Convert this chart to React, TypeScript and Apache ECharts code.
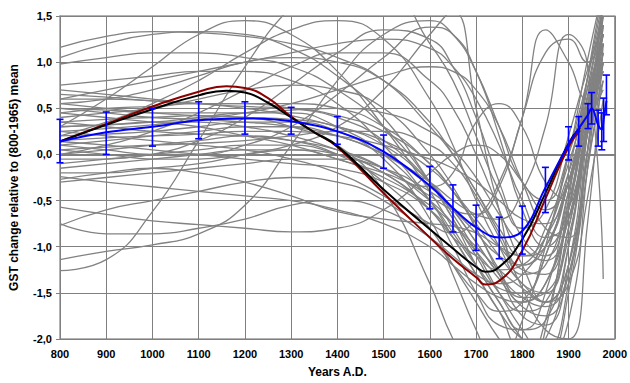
import React, { useEffect, useRef } from "react";
import * as echarts from "echarts";

// Sample years shared by the gray (individual reconstruction) curves
const YEARS = [800, 900, 1000, 1100, 1200, 1300, 1400, 1500, 1600, 1650, 1700, 1750, 1800, 1850, 1900, 1940, 1975];

const G01 = [-1.26, -1.14, -0.62, 0.15, 0.95, 1.6, 2.0, 1.9, 1.2, 0.8, 0.2, -0.4, -0.8, -0.6, 0.2, 0.9, 1.4];
const G02 = [-1.14, -1.05, -0.98, -0.86, -0.55, 0.1, 0.8, 1.3, 1.45, 1.3, 0.9, 0.3, -0.3, -0.5, 0.0, 0.7, 1.2];
const G03 = [-0.75, -0.86, -0.86, -0.8, -0.7, -0.55, -0.5, -0.6, -0.9, -1.1, -1.3, -1.4, -1.3, -0.9, -0.2, 0.4, 0.9];
const G04 = [-0.57, -0.65, -0.72, -0.76, -0.8, -0.84, -0.8, -0.6, -0.2, 0.0, 0.1, 0.0, -0.3, -0.6, -0.3, 0.4, 1.0];
const G05 = [-0.77, -0.6, -0.5, -0.4, -0.3, -0.25, -0.3, -0.5, -0.9, -1.2, -1.5, -1.7, -1.6, -1.1, -0.3, 0.5, 1.2];
const G06 = [-0.24, -0.3, -0.35, -0.4, -0.45, -0.5, -0.6, -0.75, -1.0, -1.2, -1.4, -1.55, -1.6, -1.4, -0.7, 0.2, 0.8];
const G07 = [-0.27, -0.2, -0.15, -0.2, -0.3, -0.45, -0.62, -0.7, -0.75, -0.78, -0.85, -1.0, -1.1, -0.9, -0.3, 0.3, 0.7];
const G08 = [0.14, 0.1, 0.05, 0.0, -0.05, -0.1, -0.15, -0.3, -0.6, -0.9, -1.3, -1.7, -2.1, -2.0, -1.0, 0.3, 1.2];
const G09 = [0.0, 0.05, 0.1, 0.15, 0.2, 0.15, 0.0, -0.3, -0.8, -1.2, -1.6, -2.0, -2.3, -1.8, -0.6, 0.6, 1.6];
const G10 = [0.05, 0.0, -0.05, -0.05, 0.0, 0.05, 0.0, -0.2, -0.6, -0.9, -1.1, -1.25, -1.2, -0.8, -0.1, 0.6, 1.3];
const G11 = [0.3, 0.32, 0.35, 0.4, 0.45, 0.45, 0.3, 0.0, -0.5, -0.85, -1.2, -1.45, -1.5, -1.1, -0.2, 0.8, 1.7];
const G12 = [0.55, 0.5, 0.45, 0.42, 0.4, 0.38, 0.3, 0.1, -0.3, -0.6, -0.95, -1.3, -1.55, -1.5, -0.8, 0.3, 1.1];
const G13 = [0.6, 0.6, 0.58, 0.55, 0.5, 0.42, 0.3, 0.15, -0.15, -0.4, -0.7, -1.0, -1.2, -1.0, -0.3, 0.5, 1.0];
const G14 = [0.7, 0.65, 0.6, 0.55, 0.52, 0.5, 0.42, 0.25, -0.1, -0.4, -0.75, -1.1, -1.4, -1.6, -1.2, 0.0, 1.4];
const G15 = [0.75, 0.8, 0.85, 0.9, 0.9, 0.8, 0.55, 0.1, -0.5, -0.9, -1.3, -1.7, -2.0, -2.1, -1.4, 0.0, 1.0];
const G16 = [0.98, 1.05, 1.1, 1.1, 1.05, 0.95, 0.7, 0.3, -0.3, -0.7, -1.1, -1.5, -1.7, -1.6, -0.9, 0.2, 1.2];
const G17 = [1.05, 1.2, 1.3, 1.33, 1.3, 1.15, 0.85, 0.4, -0.3, -0.7, -1.2, -1.6, -2.0, -2.2, -1.5, 0.0, 1.5];
const G18 = [1.16, 1.28, 1.33, 1.32, 1.28, 1.2, 1.05, 0.8, 0.3, 0.0, -0.4, -0.8, -1.1, -1.0, -0.3, 0.6, 1.3];
const G19 = [0.3, 0.6, 0.95, 1.3, 1.45, 1.3, 0.9, 0.3, -0.4, -0.8, -1.2, -1.6, -1.9, -1.8, -1.0, 0.2, 1.0];
const G20 = [0.2, 0.35, 0.55, 0.8, 1.1, 1.35, 1.45, 1.25, 0.6, 0.1, -0.5, -1.0, -1.4, -1.5, -0.8, 0.4, 1.2];
const G21 = [-0.1, -0.05, 0.0, 0.15, 0.4, 0.75, 1.1, 1.35, 1.25, 0.95, 0.4, -0.3, -0.9, -1.1, -0.5, 0.5, 1.3];
const G22 = [0.1, 0.05, 0.0, 0.0, 0.1, 0.3, 0.65, 1.05, 1.38, 1.3, 0.9, 0.2, -0.6, -1.0, -0.6, 0.3, 1.0];
const G23 = [-0.2, -0.2, -0.15, -0.1, 0.0, 0.1, 0.3, 0.7, 1.3, 1.55, 0.5, -0.6, -1.3, -1.2, -0.4, 0.5, 1.3];
const G24 = [0.45, 0.4, 0.35, 0.3, 0.2, 0.1, -0.05, -0.2, -0.35, -0.2, 0.35, 0.55, 0.3, -0.3, -0.5, 0.3, 1.1];
const G25 = [0.25, 0.2, 0.15, 0.1, 0.05, -0.05, -0.2, -0.45, -0.75, -0.85, -0.7, -0.3, 0.4, 1.35, 1.0, 0.6, 0.9];
const G26 = [0.5, 0.45, 0.4, 0.38, 0.35, 0.3, 0.2, 0.0, -0.3, -0.5, -0.65, -0.7, -0.4, 0.3, 1.3, 1.0, -1.35];
const G27 = [0.35, 0.38, 0.4, 0.42, 0.4, 0.3, 0.1, -0.4, -1.4, -2.0, -2.4, -2.3, -1.8, -1.0, 0.0, 0.8, 1.6];
const G28 = [0.2, 0.22, 0.25, 0.3, 0.35, 0.35, 0.25, -0.05, -0.7, -1.3, -1.9, -2.4, -2.5, -1.9, -0.5, 0.8, 1.8];
const G29 = [-0.05, -0.05, 0.0, 0.05, 0.1, 0.1, 0.0, -0.2, -0.6, -1.0, -1.5, -1.85, -1.9, -1.5, -0.4, 0.7, 1.5];
const G30 = [0.45, 0.5, 0.52, 0.55, 0.55, 0.5, 0.4, 0.15, -0.3, -0.65, -1.05, -1.5, -1.9, -2.2, -1.8, -0.2, 1.4];
const G31 = [0.65, 0.62, 0.58, 0.55, 0.55, 0.55, 0.5, 0.3, -0.1, -0.4, -0.8, -1.3, -1.75, -1.85, -1.2, 0.3, 1.6];
const G32 = [0.1, 0.15, 0.2, 0.25, 0.3, 0.3, 0.2, 0.0, -0.35, -0.6, -0.95, -1.3, -1.55, -1.65, -1.3, -0.2, 1.0];
const G33 = [-0.15, -0.1, -0.05, 0.0, 0.05, 0.05, -0.05, -0.25, -0.55, -0.75, -1.0, -1.25, -1.45, -1.6, -1.4, -0.5, 0.6];
const G34 = [0.4, 0.45, 0.5, 0.6, 0.7, 0.75, 0.7, 0.5, 0.0, -0.35, -0.8, -1.25, -1.6, -1.4, -0.6, 0.5, 1.4];
const G35 = [0.55, 0.6, 0.7, 0.85, 1.0, 1.05, 1.0, 0.8, 0.35, 0.0, -0.4, -0.85, -1.25, -1.3, -0.6, 0.5, 1.5];
const G36 = [0.0, 0.1, 0.25, 0.45, 0.7, 0.95, 1.1, 1.1, 0.8, 0.5, 0.0, -0.6, -1.2, -1.6, -1.2, 0.2, 1.8];
const G37 = [0.25, 0.28, 0.32, 0.38, 0.45, 0.55, 0.7, 0.85, 0.95, 0.9, 0.7, 0.3, -0.3, -0.8, -0.9, -0.1, 0.8];
const G38 = [0.6, 0.7, 0.8, 0.9, 1.0, 1.1, 1.2, 1.25, 1.15, 0.95, 0.6, 0.1, -0.5, -0.9, -0.7, 0.2, 1.0];
const G39 = [0.15, 0.18, 0.2, 0.22, 0.25, 0.25, 0.2, 0.1, -0.05, -0.15, -0.3, -0.5, -0.7, -0.75, -0.3, 0.4, 0.9];
const G40 = [0.5, 0.48, 0.45, 0.45, 0.45, 0.48, 0.5, 0.45, 0.25, 0.05, -0.25, -0.65, -1.0, -1.15, -0.7, 0.3, 1.3];
const G41 = [0.05, 0.08, 0.1, 0.12, 0.15, 0.2, 0.25, 0.25, 0.1, -0.1, -0.45, -0.9, -1.45, -1.9, -2.0, -0.8, 1.2];
const G42 = [0.35, 0.3, 0.25, 0.22, 0.2, 0.15, 0.05, -0.15, -0.5, -0.75, -1.05, -1.35, -1.65, -1.75, -1.3, 0.0, 1.1];
const G43 = [0.3, 0.32, 0.35, 0.35, 0.3, 0.2, 0.05, -0.15, -0.45, -0.6, -0.65, -0.35, 0.4, 1.1, 1.25, 1.0, 1.3];
const G44 = [-0.3, -0.25, -0.2, -0.15, -0.1, -0.05, -0.05, -0.15, -0.4, -0.6, -0.85, -1.1, -1.2, -0.9, 0.0, 1.0, 1.8];

const GRAY_CURVES = [G01, G02, G03, G04, G05, G06, G07, G08, G09, G10, G11, G12, G13, G14, G15, G16, G17, G18, G19, G20, G21, G22,
  G23, G24, G25, G26, G27, G28, G29, G30, G31, G32, G33, G34, G35, G36, G37, G38, G39, G40, G41, G42, G43, G44];

// Blue mean with error bars
const BLUE_YEARS = [800, 900, 1000, 1100, 1200, 1300, 1400, 1500, 1600, 1650, 1700, 1750, 1800, 1850, 1900, 1922, 1942, 1950, 1964, 1972, 1976, 1982];
const BLUE_MEAN = [0.14, 0.24, 0.30, 0.37, 0.39, 0.36, 0.25, 0.03, -0.34, -0.58, -0.79, -0.90, -0.83, -0.36, 0.11, 0.28, 0.43, 0.50, 0.32, 0.27, 0.38, 0.58];
const BLUE_LOW = [-0.09, 0.00, 0.09, 0.17, 0.22, 0.22, 0.11, -0.15, -0.59, -0.84, -1.04, -1.13, -1.08, -0.63, -0.06, 0.09, 0.28, 0.33, 0.09, 0.05, 0.14, 0.43];
const BLUE_HIGH = [0.38, 0.46, 0.50, 0.57, 0.57, 0.51, 0.41, 0.21, -0.13, -0.33, -0.55, -0.68, -0.56, -0.14, 0.30, 0.41, 0.55, 0.67, 0.48, 0.45, 0.61, 0.86];

// Black and dark red curves
const BR_YEARS = [800, 900, 1000, 1100, 1160, 1200, 1250, 1300, 1350, 1400, 1500, 1600, 1650, 1700, 1720, 1750, 1800, 1850, 1900, 1925];
const BLACK = [0.14, 0.32, 0.49, 0.64, 0.69, 0.67, 0.56, 0.40, 0.24, 0.09, -0.38, -0.81, -1.02, -1.22, -1.27, -1.22, -0.92, -0.42, 0.12, 0.29];
const RED = [0.14, 0.33, 0.52, 0.68, 0.74, 0.72, 0.61, 0.41, 0.24, 0.08, -0.42, -0.90, -1.13, -1.33, -1.41, -1.37, -1.04, -0.48, 0.08, 0.26];

const FONT = "'Liberation Sans', Arial, sans-serif";

export default function App() {
  const ref = useRef<HTMLDivElement>(null);
  useEffect(() => {
    const chart = echarts.init(ref.current!, null, { renderer: "svg" });
    const series: any[] = [];
    GRAY_CURVES.forEach((vals) => {
      series.push({
        type: "line",
        data: YEARS.map((y, j) => [y, vals[j]]),
        smooth: 0.5,
        showSymbol: false,
        silent: true,
        lineStyle: { color: "#828282", width: 1.3 },
        z: 2,
      });
    });
    series.push({
      type: "line",
      data: BR_YEARS.map((y, i) => [y, RED[i]]),
      smooth: 0.5,
      showSymbol: false,
      silent: true,
      lineStyle: { color: "#8B0000", width: 2 },
      z: 5,
    });
    series.push({
      type: "line",
      data: BR_YEARS.map((y, i) => [y, BLACK[i]]),
      smooth: 0.5,
      showSymbol: false,
      silent: true,
      lineStyle: { color: "#000000", width: 2 },
      z: 6,
    });
    series.push({
      type: "line",
      data: BLUE_YEARS.map((y, i) => [y, BLUE_MEAN[i]]),
      smooth: 0.4,
      showSymbol: false,
      silent: true,
      lineStyle: { color: "#0000FF", width: 2 },
      z: 7,
    });
    series.push({
      type: "custom",
      silent: true,
      data: BLUE_YEARS.map((y, i) => [y, BLUE_LOW[i], BLUE_HIGH[i]]),
      encode: { x: 0, y: [1, 2] },
      renderItem: (_params: any, api: any) => {
        const lo = api.coord([api.value(0), api.value(1)]);
        const hi = api.coord([api.value(0), api.value(2)]);
        const w = 3.5;
        const style = { stroke: "#0000FF", lineWidth: 1.6 };
        return {
          type: "group",
          children: [
            { type: "line", shape: { x1: lo[0], y1: lo[1], x2: hi[0], y2: hi[1] }, style },
            { type: "line", shape: { x1: lo[0] - w, y1: lo[1], x2: lo[0] + w, y2: lo[1] }, style },
            { type: "line", shape: { x1: hi[0] - w, y1: hi[1], x2: hi[0] + w, y2: hi[1] }, style },
          ],
        };
      },
      z: 8,
    });

    chart.setOption({
      animation: false,
      backgroundColor: "#ffffff",
      grid: {
        left: 58,
        right: 11,
        top: 16,
        bottom: 42,
        show: true,
        borderColor: "#9a9a9a",
        borderWidth: 1.5,
        backgroundColor: "transparent",
      },
      xAxis: {
        type: "value",
        min: 800,
        max: 2000,
        interval: 100,
        name: "Years A.D.",
        nameLocation: "middle",
        nameGap: 27,
        nameTextStyle: { fontFamily: FONT, fontWeight: "bold", fontSize: 12, color: "#000" },
        axisLine: { show: true, lineStyle: { color: "#808080", width: 2 } },
        axisTick: { show: true, length: 4, lineStyle: { color: "#808080" } },
        axisLabel: {
          fontFamily: FONT,
          fontWeight: "bold",
          fontSize: 11,
          color: "#000",
          margin: 9,
          formatter: (v: number) => String(v),
        },
        splitLine: { show: true, lineStyle: { color: "#808080", width: 1 } },
      },
      yAxis: {
        type: "value",
        min: -2,
        max: 1.5,
        interval: 0.5,
        name: "GST change relative to (800-1965) mean",
        nameLocation: "middle",
        nameGap: 40,
        nameTextStyle: { fontFamily: FONT, fontWeight: "bold", fontSize: 12, color: "#000" },
        axisLine: { show: true, lineStyle: { color: "#808080", width: 1 } },
        axisTick: { show: true, length: 4, lineStyle: { color: "#808080" } },
        axisLabel: {
          fontFamily: FONT,
          fontWeight: "bold",
          fontSize: 11,
          color: "#000",
          margin: 8,
          formatter: (v: number) => v.toFixed(1).replace(".", ","),
        },
        splitLine: { show: true, lineStyle: { color: "#808080", width: 1 } },
      },
      series,
    });
    return () => chart.dispose();
  }, []);
  return (
    <div
      ref={ref}
      style={{ position: "fixed", left: 0, top: 0, width: 630, height: 383, background: "#fff" }}
    />
  );
}
